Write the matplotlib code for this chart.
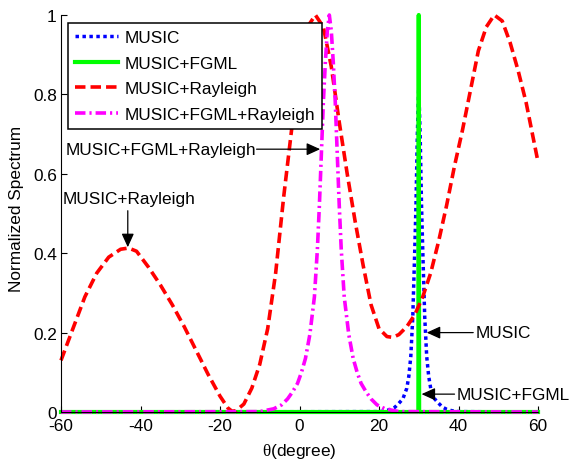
import matplotlib
matplotlib.use("Agg")
import matplotlib.pyplot as plt

plt.rcParams['font.family'] = ['Liberation Sans', 'DejaVu Sans']
plt.rcParams['axes.unicode_minus'] = False
plt.rcParams['mathtext.fontset'] = 'custom'
plt.rcParams['mathtext.rm'] = 'Liberation Serif'

FS = 12.4

# ---- data ----
theta_music = [-60, 20, 21, 22, 23, 24, 25, 26, 27, 27.5, 28, 28.5, 29, 29.3, 29.65,
               30, 30.35, 30.7, 31, 31.5, 32, 32.5, 33, 34, 35, 36, 37, 38, 39, 40, 60]
music = [0, 0.001, 0.002, 0.004, 0.007, 0.012, 0.022, 0.033, 0.06, 0.09, 0.14, 0.24, 0.41, 0.52, 0.70,
         0.82, 0.70, 0.52, 0.41, 0.24, 0.14, 0.09, 0.06, 0.033, 0.022, 0.012, 0.007, 0.004, 0.002, 0.001, 0]

theta_fgml = [-60, 29.9, 30, 30.1, 60]
music_fgml = [0, 0, 1, 0, 0]

theta_ray = [-60, -57, -54, -51, -48, -45, -43, -41, -38, -35,
             -32, -29, -26, -23, -20, -18, -17, -16, -14, -12,
             -10, -8, -6, -4, -2, 0, 2, 4, 6, 8,
             10, 12, 14, 16, 18, 20, 22, 23.5, 25, 27,
             29, 31, 33, 35, 37, 39, 41, 43, 45, 47,
             49, 51, 53, 55, 57, 59, 60]
music_ray = [0.13, 0.21, 0.29, 0.35, 0.39, 0.41, 0.413, 0.405, 0.365, 0.32,
             0.27, 0.215, 0.155, 0.095, 0.04, 0.01, 0.002, 0.003, 0.02, 0.06,
             0.12, 0.21, 0.35, 0.54, 0.71, 0.88, 0.97, 1.0, 0.97, 0.87,
             0.73, 0.6, 0.48, 0.37, 0.27, 0.21, 0.19, 0.188, 0.195, 0.215,
             0.245, 0.29, 0.35, 0.43, 0.52, 0.62, 0.71, 0.81, 0.91, 0.97,
             1.0, 0.985, 0.93, 0.86, 0.78, 0.68, 0.63]

theta_fr = [-60, -10, -6.5, -4.5, -3, -1.8, -0.5, 0.5, 1.5, 2.6, 3.75, 4.5, 5, 5.5, 6, 6.5, 7,
            7.5, 8, 8.5, 9, 9.5, 10, 10.5, 11.25, 12.4, 13.5, 14.5, 15.5, 16.8, 18, 19.5, 21.5, 25, 60]
music_fr = [0, 0.001, 0.008, 0.018, 0.033, 0.05, 0.072, 0.1, 0.135, 0.195, 0.29, 0.41, 0.52, 0.65, 0.78, 0.88, 0.96,
            1.0, 0.96, 0.88, 0.78, 0.65, 0.52, 0.41, 0.29, 0.195, 0.135, 0.1, 0.072, 0.05, 0.033, 0.018, 0.008, 0.001, 0]

labels = ['MUSIC', 'MUSIC+FGML', 'MUSIC+Rayleigh', 'MUSIC+FGML+Rayleigh']
xticks = [-60, -40, -20, 0, 20, 40, 60]
xticklabels = ['-60', '-40', '-20', '0', '20', '40', '60']
yticks = [0, 0.2, 0.4, 0.6, 0.8, 1]
yticklabels = ['0', '0.2', '0.4', '0.6', '0.8', '1']

fig = plt.figure(figsize=(5.69, 4.60), dpi=100)
ax = fig.add_axes([61/569, 1 - 413/460, 477/569, 397/460])

l1, = ax.plot(theta_music, music, color=(0, 0, 1), lw=2.5, dashes=(1, 1), clip_on=False)
l2, = ax.plot(theta_fgml, music_fgml, color=(0, 1, 0), lw=3, clip_on=False)
l3, = ax.plot(theta_ray, music_ray, color=(1, 0, 0), lw=2.6, dashes=(2.9, 1.4), clip_on=False)
l4, = ax.plot(theta_fr, music_fr, color=(1, 0, 1), lw=2.6, dashes=(2.9, 1.1, 0.6, 1.1), clip_on=False)

ax.set_xlim(-60, 60)
ax.set_ylim(0, 1)
ax.set_xticks(xticks)
ax.set_xticklabels(xticklabels)
ax.set_yticks(yticks)
ax.set_yticklabels(yticklabels)
ax.tick_params(direction='in', length=4, width=0.8, labelsize=FS, colors='black')
ax.tick_params(axis='x', pad=4)
ax.tick_params(axis='y', pad=3)
for s in ['top', 'right']:
    ax.spines[s].set_visible(False)
for s in ['left', 'bottom']:
    ax.spines[s].set_linewidth(0.8)

ax.set_ylabel('Normalized Spectrum', fontsize=FS)
ax.yaxis.set_label_coords(-0.078, 0.514)
ax.set_xlabel(r'$\mathrm{θ}$(degree)', fontsize=FS, va='top')
ax.xaxis.set_label_coords(0.5, -0.074)

leg = ax.legend([l1, l2, l3, l4], labels, loc='upper left',
                bbox_to_anchor=(7/477, 1 - 8/397), borderaxespad=0,
                fontsize=FS, fancybox=False, framealpha=1, edgecolor='black',
                handlelength=2.5, handletextpad=0.4, labelspacing=0.62, borderpad=0.4)
leg.get_frame().set_linewidth(1.1)

arrow = dict(arrowstyle='-|>,head_length=0.55,head_width=0.25', color='black',
             lw=0.9, shrinkA=0, shrinkB=0, mutation_scale=15)

ax.text(-42.9, 0.537, 'MUSIC+Rayleigh', ha='center', va='center', fontsize=FS)
ax.annotate('', xy=(-43.2, 0.415), xytext=(-43.2, 0.507), arrowprops=arrow)

ax.text(-10.8, 0.662, 'MUSIC+FGML+Rayleigh', ha='right', va='center', fontsize=FS)
ax.annotate('', xy=(5.2, 0.662), xytext=(-10.8, 0.662), arrowprops=arrow)

ax.text(44.2, 0.2, 'MUSIC', ha='left', va='center', fontsize=FS)
ax.annotate('', xy=(32.0, 0.2), xytext=(43.7, 0.2), arrowprops=arrow)

ax.text(39.6, 0.045, 'MUSIC+FGML', ha='left', va='center', fontsize=FS)
ax.annotate('', xy=(30.7, 0.045), xytext=(39.0, 0.045), arrowprops=arrow)

fig.savefig('out.png', dpi=100)
